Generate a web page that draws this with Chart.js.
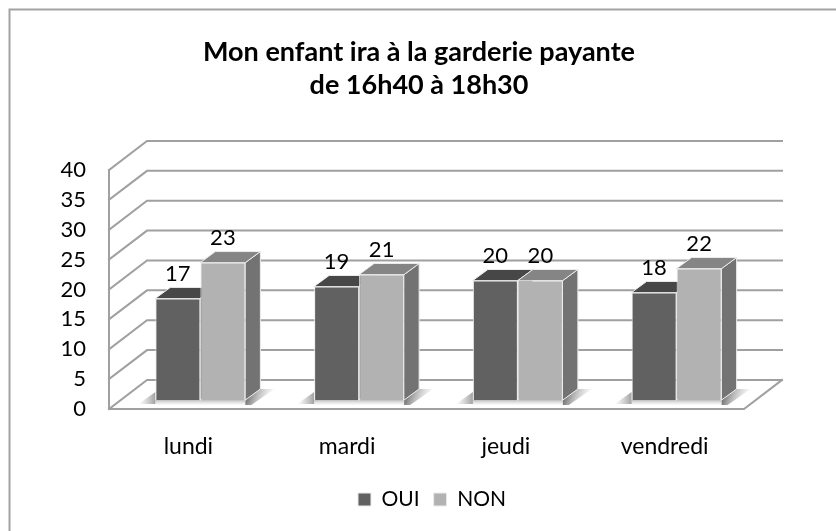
<!DOCTYPE html>
<html><head><meta charset="utf-8">
<style>html,body{margin:0;padding:0;background:#fff}canvas{display:block}</style>
<script src="https://cdn.jsdelivr.net/npm/chart.js@4"></script>
</head><body><canvas id="c" width="836" height="531"></canvas>
<script>
const categories = ['lundi','mardi','jeudi','vendredi'];
const oui = [17,19,20,18];
const non = [23,21,20,22];
const yMax = 40, yStep = 5;
const titleLines = ['Mon enfant ira à la garderie payante','de 16h40 à 18h30'];

const WALL = {dx:38, dy:-29};   // floor depth
const FRONT = {dx:12, dy:-9};   // bar front plane
const BAR = {dx:15, dy:-11};    // bar depth
const FONT = 'Lato';

const scene = {
  id:'scene',
  afterLayout(ch){
    ch.titleBlock.left += 47; ch.titleBlock.right += 47;
    ch.legend.left += 60; ch.legend.right += 60;
  },
  beforeDraw(ch){
    const c = ch.ctx;
    c.save();
    c.fillStyle='#fff'; c.fillRect(0,0,836,531);
    c.strokeStyle='#a3a3a3'; c.lineWidth=2;
    c.beginPath(); c.moveTo(9.5,531); c.lineTo(9.5,9.5); c.lineTo(836,9.5); c.stroke();
    c.restore();
  },
  beforeDatasetsDraw(ch){
    const c = ch.ctx, a = ch.chartArea, y = ch.scales.y;
    c.save();
    c.lineCap='square';
    c.strokeStyle='#a0a0a0'; c.lineWidth=2;
    y.ticks.forEach(t=>{
      const py = y.getPixelForValue(t.value);
      c.beginPath(); c.moveTo(a.left,py); c.lineTo(a.left+WALL.dx,py+WALL.dy); c.lineTo(a.right+WALL.dx,py+WALL.dy); c.stroke();
    });
    const y0 = y.getPixelForValue(0), yT = y.getPixelForValue(yMax);
    c.beginPath(); c.moveTo(a.left,yT); c.lineTo(a.left,y0); c.lineTo(a.right,y0); c.lineTo(a.right+WALL.dx,y0+WALL.dy); c.stroke();
    const metas = [ch.getDatasetMeta(0), ch.getDatasetMeta(1)];
    const base = y0+FRONT.dy;
    categories.forEach((_,i)=>{
      const l = metas[0].data[i], r = metas[1].data[i];
      const xL = l.x - l.width/2 + FRONT.dx, xR = r.x + r.width/2 + FRONT.dx;
      // soft shadow on the floor: left wedge, strip under the bars, right wedge
      let g = c.createLinearGradient(xL-17,0,xL,0);
      g.addColorStop(0,'rgba(160,160,160,0)'); g.addColorStop(1,'rgba(130,130,130,0.75)');
      c.fillStyle=g;
      c.beginPath(); c.moveTo(xL-17,base+4); c.lineTo(xL,base-8); c.lineTo(xL,base+4); c.closePath(); c.fill();
      g = c.createLinearGradient(0,base,0,base+5);
      g.addColorStop(0,'rgba(160,160,160,0.7)'); g.addColorStop(1,'rgba(210,210,210,0.1)');
      c.fillStyle=g; c.fillRect(xL,base,xR-xL,5);
      g = c.createLinearGradient(xR+BAR.dx-10,base+BAR.dy,xR+BAR.dx+14,base+BAR.dy+8);
      g.addColorStop(0,'rgba(100,100,100,0.85)'); g.addColorStop(1,'rgba(190,190,190,0)');
      c.fillStyle=g;
      c.beginPath(); c.moveTo(xR,base); c.lineTo(xR+BAR.dx,base+BAR.dy); c.lineTo(xR+BAR.dx+14,base+BAR.dy);
      c.lineTo(xR+6,base+5); c.lineTo(xR,base+5); c.closePath(); c.fill();
    });
    metas.forEach((m,di)=>{
      const top = di===0?'#474747':'#858585', side = di===0?'#5a5a5a':'#737373';
      m.data.forEach(b=>{
        const x0=b.x-b.width/2+FRONT.dx, x1=b.x+b.width/2+FRONT.dx, yt=b.y+FRONT.dy, yb=b.base+FRONT.dy;
        c.strokeStyle='#ececec'; c.lineWidth=1; c.lineJoin='round';
        c.fillStyle=side;
        c.beginPath(); c.moveTo(x1,yt); c.lineTo(x1+BAR.dx,yt+BAR.dy); c.lineTo(x1+BAR.dx,yb+BAR.dy); c.lineTo(x1,yb); c.closePath(); c.fill(); c.stroke();
        c.fillStyle=top;
        c.beginPath(); c.moveTo(x0,yt); c.lineTo(x0+BAR.dx,yt+BAR.dy); c.lineTo(x1+BAR.dx,yt+BAR.dy); c.lineTo(x1,yt); c.closePath(); c.fill(); c.stroke();
      });
    });
    c.restore();
    c.save();
    c.translate(FRONT.dx,FRONT.dy);
  },
  afterDatasetsDraw(ch){
    const c = ch.ctx;
    c.restore();
    c.save();
    c.font = '22px '+FONT; c.fillStyle='#000'; c.textAlign='center'; c.textBaseline='middle';
    [oui,non].forEach((vals,di)=>{
      const m = ch.getDatasetMeta(di);
      m.data.forEach((b,i)=>{
        c.fillText(String(vals[i]), b.x+FRONT.dx, b.y+FRONT.dy-25);
      });
    });
    c.restore();
  }
};

new Chart(document.getElementById('c'),{
  type:'bar',
  data:{labels:categories,datasets:[
    {label:'OUI',data:oui,backgroundColor:'#616161',borderColor:'#ececec',borderWidth:1,clip:false},
    {label:'NON',data:non,backgroundColor:'#b2b2b2',borderColor:'#ececec',borderWidth:1,clip:false}
  ]},
  plugins:[scene],
  options:{
    responsive:false,animation:false,
    devicePixelRatio:1,
    layout:{padding:{left:0,right:92,top:0,bottom:11}},
    datasets:{bar:{categoryPercentage:0.567,barPercentage:1}},
    plugins:{
      tooltip:{enabled:false},
      title:{display:true,text:titleLines,color:'#000',
        font:{family:FONT,size:27,weight:'bold',lineHeight:1.222},
        padding:{top:36,bottom:68}},
      legend:{position:'bottom',
        labels:{font:{family:FONT,size:21},color:'#000',boxWidth:13,boxHeight:13,padding:14}}
    },
    scales:{
      x:{grid:{display:false},border:{display:false},
        ticks:{color:'#000',font:{family:FONT,size:23},padding:16,maxRotation:0,autoSkip:false},
        afterFit(s){s.height=66;}},
      y:{min:0,max:yMax,grid:{display:false},border:{display:false},
        ticks:{stepSize:yStep,color:'#000',font:{family:FONT,size:22},padding:15,autoSkip:false},
        afterFit(s){s.width=109;}}
    }
  }
});
</script></body></html>
